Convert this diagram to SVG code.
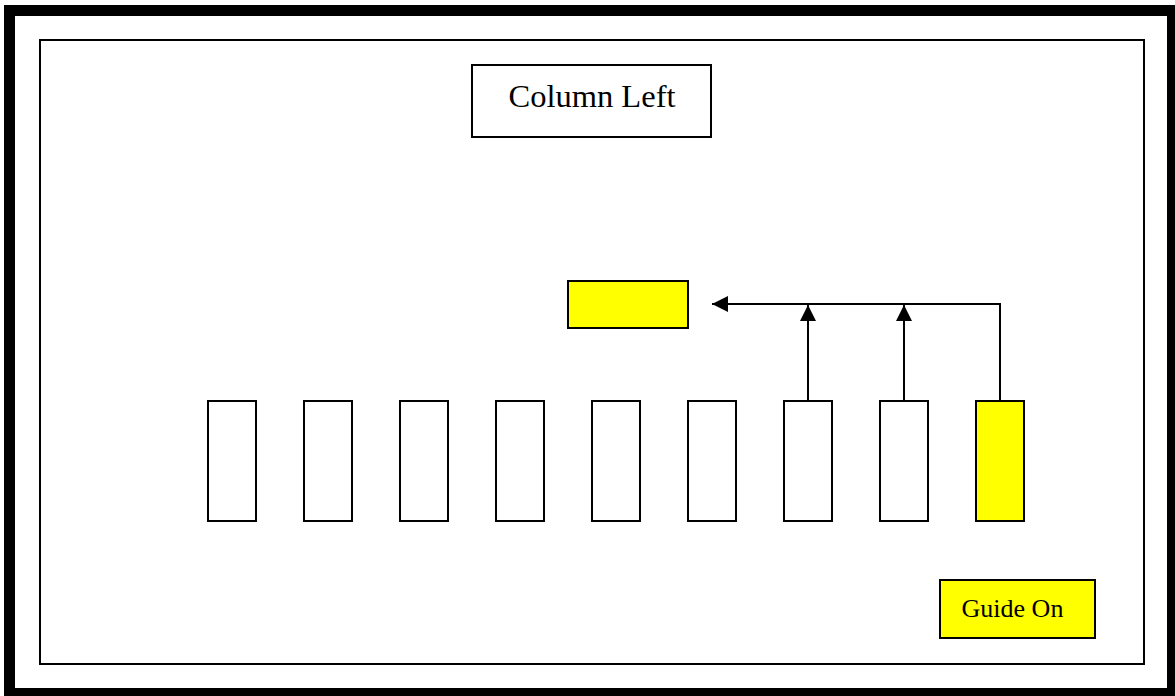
<svg xmlns="http://www.w3.org/2000/svg" width="1175" height="696" viewBox="0 0 1175 696">
<defs>
<style>
.box{fill:#fff;stroke:#000;stroke-width:2}
.yel{fill:#ffff00;stroke:#000;stroke-width:2}
.lbl{font-family:"Liberation Serif","Times New Roman",serif;fill:#000;text-anchor:middle}
.con{fill:none;stroke:#000;stroke-width:2}
</style>
<marker id="ah" viewBox="0 0 16 16" refX="16" refY="8" markerWidth="16" markerHeight="16" markerUnits="userSpaceOnUse" orient="auto">
<path d="M0,0 L16,8 L0,16 Z" fill="#000"/>
</marker>
</defs>
<rect width="1175" height="696" fill="#fff"/>
<rect id="outer-frame" x="9.5" y="10.5" width="1163" height="683" fill="none" stroke="#000" stroke-width="11"/>
<rect id="inner-frame" x="40" y="40" width="1104" height="624" fill="none" stroke="#000" stroke-width="2"/>
<g id="title">
<rect class="box" x="472" y="65" width="239" height="72"/>
<text class="lbl" x="592" y="107" font-size="32.5">Column Left</text>
</g>
<g id="target">
<rect class="yel" x="568" y="281" width="120" height="47"/>
</g>
<g id="col1"><rect class="box" x="208" y="401" width="48" height="120"/></g>
<g id="col2"><rect class="box" x="304" y="401" width="48" height="120"/></g>
<g id="col3"><rect class="box" x="400" y="401" width="48" height="120"/></g>
<g id="col4"><rect class="box" x="496" y="401" width="48" height="120"/></g>
<g id="col5"><rect class="box" x="592" y="401" width="48" height="120"/></g>
<g id="col6"><rect class="box" x="688" y="401" width="48" height="120"/></g>
<g id="col7"><rect class="box" x="784" y="401" width="48" height="120"/></g>
<g id="col8"><rect class="box" x="880" y="401" width="48" height="120"/></g>
<g id="col9"><rect class="yel" x="976" y="401" width="48" height="120"/></g>
<g id="connectors">
<path class="con" d="M1000,400 L1000,304 L712,304" marker-end="url(#ah)"/>
<path class="con" d="M808,400 L808,305" marker-end="url(#ah)"/>
<path class="con" d="M904,400 L904,305" marker-end="url(#ah)"/>
</g>
<g id="guide">
<rect class="yel" x="940" y="580" width="155" height="58"/>
<text class="lbl" x="1012.5" y="617" font-size="26">Guide On</text>
</g>
</svg>
